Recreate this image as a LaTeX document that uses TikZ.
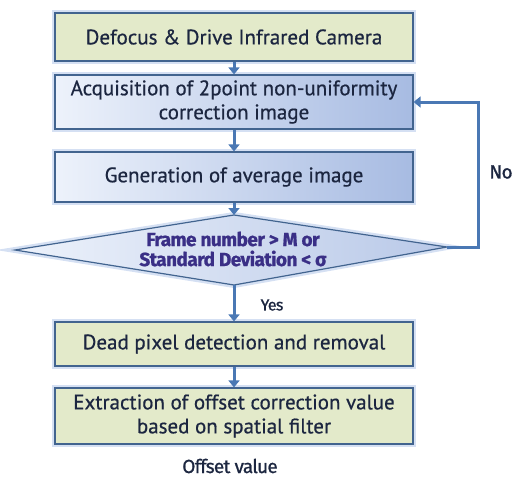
\documentclass[tikz,border=0pt]{standalone}
\usepackage{fontspec}
\setmainfont{PT Sans}
\newfontfamily\boxfont[FakeBold=0.6]{PT Sans}
\newfontfamily\dfont[LetterSpace=-3,FakeBold=1]{Fira Sans Bold}
\newfontfamily\lfont[LetterSpace=-4,FakeBold=1]{Fira Sans}
\usetikzlibrary{shapes.geometric,arrows.meta}
\definecolor{greenfill}{HTML}{E3EACA}
\definecolor{boxborder}{HTML}{42648F}
\definecolor{blueL}{HTML}{EDF2FB}
\definecolor{blueR}{HTML}{A7BBE2}
\definecolor{arrowc}{HTML}{4A78B4}
\definecolor{txt}{HTML}{1C2640}
\definecolor{dtxt}{HTML}{3A2F86}
\definecolor{glow}{HTML}{B9CCEB}
\tikzset{
  basebox/.style={draw=boxborder, line width=1.2pt, minimum width=358pt, align=center,
    text=txt, font=\boxfont\fontsize{21}{24}\selectfont, inner sep=2pt,
    preaction={draw=glow, line width=6pt, opacity=0.6}},
  greenbox/.style={basebox, fill=greenfill},
  bluebox/.style={basebox, left color=blueL, right color=blueR},
  diamondpath/.style={draw=boxborder, line width=1.2pt, left color=blueL, right color=blueR!80!white,
    preaction={draw=glow, line width=6pt, opacity=0.6}},
  dtext/.style={align=center, text=dtxt, font=\dfont\fontsize{19}{20}\selectfont, inner sep=0pt},
  flow/.style={draw=arrowc, line width=3pt, -{Triangle[width=11pt,length=7pt]}},
  lbl/.style={text=txt, font=\lfont\fontsize{19}{22}\selectfont, inner sep=0pt}
}
\begin{document}
\begin{tikzpicture}[x=1pt,y=-1pt]
\useasboundingbox (0,0) rectangle (521,479);
\node[greenbox, minimum height=48pt] (b1) at (234,37) {Defocus \& Drive Infrared Camera};
\node[bluebox, minimum height=54pt] (b2) at (234,102) {Acquisition of 2point non-uniformity\\correction image};
\node[bluebox, minimum height=50pt] (b3) at (234,177) {Generation of average image};
\coordinate (dt) at (234,215);
\coordinate (db) at (234,285);
\coordinate (dl) at (15,250);
\coordinate (dr) at (447,247);
\path[diamondpath] (dt) -- (dr) -- (db) -- (dl) -- cycle;
\node[dtext] (d) at (233,249) {Frame number > M or\\Standard Deviation < σ};
\node[greenbox, minimum height=44pt] (b4) at (234,344) {Dead pixel detection and removal};
\node[greenbox, minimum height=56pt] (b5) at (234,416) {Extraction of offset correction value\\based on spatial filter};
\node[lbl] (off) at (230,466) {Offset value};
\coordinate (c1) at (478,247);
\coordinate (c2) at (478,102);
\draw[flow] (b1) -- (b2);
\draw[flow] (b2) -- (b3);
\draw[flow] (b3) -- (dt);
\draw[flow] (db) -- (b4);
\draw[flow] (b4) -- (b5);
\draw[flow] (dr) -- (c1) -- (c2) -- (b2.east);
\node[lbl, font=\lfont\fontsize{16}{19}\selectfont] (yes) at (272,305) {Yes};
\node[lbl] (no) at (501,172) {No};
\end{tikzpicture}
\end{document}
